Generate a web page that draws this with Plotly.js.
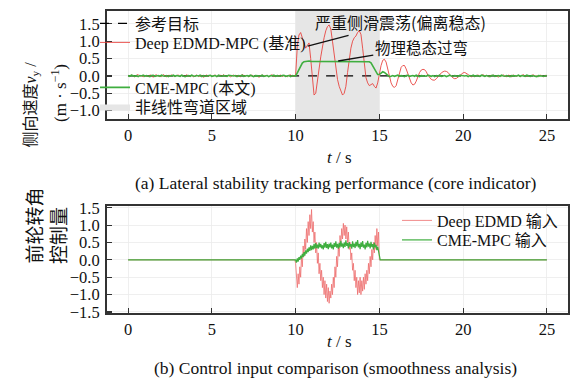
<!DOCTYPE html>
<html>
<head>
<meta charset="utf-8">
<script src="https://cdn.plot.ly/plotly-3.0.1.min.js"></script>
<style>html,body{margin:0;padding:0;background:#fff}#chart{width:580px;height:391px}</style>
</head>
<body>
<div id="chart"></div>
<script>
// ---------------- DATA ----------------
const xTicks = [0, 5, 10, 15, 20, 25];
const yTicksTop = [-1.0, -0.5, 0.0, 0.5, 1.0, 1.5];
const yTicksBot = [-1.5, -1.0, -0.5, 0.0, 0.5, 1.0, 1.5];
const regionT = [10, 15];

const refT = [0, 25];
const refV = [0, 0];

// Top: lateral velocity, sampled every 0.1 s
const vStep = 0.1;
// Deep EDMD-MPC, t = 0.0 .. 9.9
const redPre = [0.01,-0.02,0.03,0.00,-0.03,0.02,0.04,-0.01,0.01,-0.03,
0.02,0.00,-0.02,0.03,0.01,-0.04,0.02,0.03,-0.01,0.00,
-0.02,0.04,0.01,-0.03,0.02,-0.01,0.03,0.00,-0.02,0.01,
0.03,-0.03,0.02,0.01,-0.02,0.04,-0.01,0.00,0.02,-0.03,
0.01,0.03,-0.02,0.00,0.02,-0.04,0.01,0.03,-0.01,0.02,
-0.02,0.00,0.03,-0.03,0.01,0.02,-0.01,0.04,-0.02,0.00,
0.02,-0.03,0.01,0.03,-0.02,0.01,0.00,-0.03,0.04,0.01,
-0.01,0.02,-0.03,0.00,0.03,-0.02,0.01,0.02,-0.04,0.01,
0.03,-0.01,0.00,0.02,-0.03,0.01,0.04,-0.02,0.00,0.02,
-0.01,0.03,-0.02,0.01,0.00,-0.03,0.02,0.03,-0.01,0.01];
// Deep EDMD-MPC, t = 10.0 .. 20.5
const redMid = [0.02,0.85,1.18,1.25,1.10,0.92,0.80,0.88,0.95,0.50,
-0.15,-0.55,-0.50,-0.20,0.20,0.55,0.85,1.10,1.30,1.42,
1.47,1.35,1.00,0.60,0.20,-0.10,-0.30,-0.45,-0.55,-0.50,
-0.30,0.10,0.50,0.80,1.00,1.10,1.15,1.25,1.30,1.20,
0.80,0.30,-0.05,-0.20,-0.28,-0.25,-0.22,-0.30,-0.35,-0.20,
0.10,0.30,0.45,0.48,0.40,0.20,0.00,-0.20,-0.30,-0.33,
-0.28,-0.10,0.10,0.25,0.30,0.30,0.20,0.05,-0.10,-0.20,
-0.26,-0.24,-0.15,0.00,0.10,0.17,0.19,0.18,0.12,0.02,
-0.06,-0.10,-0.12,-0.12,-0.08,-0.02,0.04,0.09,0.12,0.14,
0.13,0.10,0.04,-0.02,-0.06,-0.08,-0.07,-0.03,0.02,0.06,
0.09,0.10,0.08,0.04,0.00,-0.03];
// Deep EDMD-MPC, t = 20.6 .. 25.0
const redPost = [0.02,-0.03,0.01,0.03,-0.02,0.00,0.04,-0.01,0.02,-0.03,
0.01,0.00,0.03,-0.02,0.01,-0.04,0.02,0.00,0.03,-0.01,
-0.02,0.02,0.01,-0.03,0.03,0.00,-0.01,0.02,-0.03,0.01,
0.04,-0.02,0.00,0.01,-0.03,0.02,0.03,-0.01,0.00,-0.02,
0.02,0.01,-0.03,0.02,0.00];
// CME-MPC, t = 0.0 .. 9.9
const grnPre = [0.01,-0.01,0.02,0.00,-0.01,0.01,-0.02,0.01,0.00,0.02,
-0.01,0.01,0.00,-0.02,0.01,0.02,-0.01,0.00,0.01,-0.01,
0.02,0.00,-0.01,0.01,-0.02,0.01,0.00,0.02,-0.01,0.01,
0.00,-0.01,0.02,0.01,-0.02,0.00,0.01,-0.01,0.02,0.00,
-0.01,0.01,0.00,0.02,-0.02,0.01,-0.01,0.00,0.01,0.02,
-0.01,0.00,0.01,-0.02,0.02,0.00,-0.01,0.01,0.00,-0.01,
0.02,0.01,-0.01,0.00,0.01,-0.02,0.01,0.00,0.02,-0.01,
0.00,0.01,-0.01,0.02,0.00,-0.02,0.01,0.01,-0.01,0.00,
0.02,-0.01,0.00,0.01,-0.02,0.01,0.00,0.02,-0.01,0.01,
0.00,-0.01,0.01,0.02,-0.01,0.00,0.01,-0.02,0.01,0.00];
// CME-MPC, t = 10.0 .. 15.7
const grnMid = [0.00,0.09,0.19,0.29,0.37,0.41,0.42,0.41,0.43,0.42,
0.42,0.41,0.43,0.42,0.41,0.42,0.43,0.42,0.41,0.42,
0.43,0.42,0.41,0.42,0.43,0.41,0.42,0.42,0.43,0.41,
0.42,0.43,0.42,0.41,0.42,0.43,0.42,0.41,0.42,0.43,
0.42,0.41,0.42,0.43,0.41,0.38,0.30,0.20,0.10,0.04,
0.04,0.09,0.12,0.10,0.05,0.00,-0.02,-0.01];
// CME-MPC, t = 15.8 .. 25.0
const grnPost = [0.01,-0.01,0.00,0.02,-0.01,0.01,0.00,-0.02,0.01,0.02,
-0.01,0.00,0.01,-0.01,0.02,0.00,-0.02,0.01,0.00,0.01,
-0.01,0.02,0.00,-0.01,0.01,-0.02,0.01,0.00,0.02,-0.01,
0.00,0.01,-0.02,0.01,0.02,0.00,-0.01,0.01,0.00,-0.01,
0.02,0.01,-0.01,0.00,0.01,-0.02,0.01,0.00,0.02,-0.01,
0.01,0.00,-0.01,0.02,0.00,-0.01,0.01,0.00,-0.02,0.01,
0.02,-0.01,0.00,0.01,-0.01,0.02,0.00,-0.01,0.01,0.00,
-0.02,0.01,0.01,-0.01,0.00,0.02,-0.01,0.01,0.00,-0.01,
0.02,0.00,-0.01,0.01,0.00,0.01,-0.02,0.01,0.00,0.01,
-0.01,0.00,0.01];

// Bottom: control input, t = 10.00 .. 15.00 every 0.05 s (zero outside)
const uStep = 0.05;
const uStart = 10.0;
const uRed = [-0.1,-0.6,-0.8,-0.4,-0.7,-0.2,-0.5,0.1,-0.2,0.4,0.1,0.6,0.3,0.9,0.5,1.1,0.7,1.3,0.9,1.45,
0.8,1.1,0.5,0.8,0.2,0.5,-0.1,0.2,-0.4,-0.1,-0.6,-0.3,-0.8,-0.5,-1.0,-0.6,-1.1,-0.7,-1.2,-0.8,
-1.25,-0.9,-1.1,-0.7,-1.0,-0.5,-0.8,-0.2,-0.5,0.1,-0.2,0.4,0.1,0.7,0.4,0.9,0.6,1.05,0.7,1.0,
0.6,0.95,0.5,0.8,0.3,0.5,0.0,0.2,-0.3,-0.1,-0.6,-0.3,-0.8,-0.5,-1.0,-0.6,-0.95,-0.5,-1.0,-0.6,
-0.9,-0.5,-0.85,-0.4,-0.7,-0.3,-0.6,-0.1,-0.4,0.1,-0.2,0.3,0.0,0.5,0.2,0.7,0.3,0.9,0.4,0.8,
0.0];
const uGrn = [0.0,-0.08,0.04,-0.05,0.08,0.0,0.12,0.04,0.17,0.08,0.22,0.12,0.27,0.18,0.32,0.22,0.36,0.26,0.42,0.28,
0.4,0.3,0.46,0.32,0.48,0.34,0.44,0.32,0.5,0.36,0.46,0.33,0.42,0.3,0.48,0.35,0.52,0.34,0.45,0.31,
0.47,0.36,0.5,0.33,0.44,0.3,0.48,0.37,0.53,0.35,0.46,0.32,0.49,0.36,0.55,0.38,0.47,0.34,0.5,0.37,
0.56,0.4,0.48,0.33,0.51,0.38,0.45,0.32,0.53,0.37,0.47,0.34,0.52,0.39,0.57,0.36,0.46,0.31,0.5,0.37,
0.54,0.35,0.44,0.3,0.49,0.36,0.55,0.38,0.47,0.33,0.52,0.37,0.45,0.3,0.5,0.36,0.43,0.28,0.38,0.25,
0.12];
// zero input before and after the curve segment
const uPreT = [0, 9.95];
const uPostT = [15.05, 25];
const uZero = [0, 0];

// ---------------- helpers ----------------
function grid(t0, step, n){ const a=[]; for(let i=0;i<n;i++) a.push(+(t0+i*step).toFixed(3)); return a; }

const redT = grid(0, vStep, redPre.length).concat(grid(10, vStep, redMid.length), grid(20.6, vStep, redPost.length));
const redV = redPre.concat(redMid, redPost);
const grnT = grid(0, vStep, grnPre.length).concat(grid(10, vStep, grnMid.length), grid(15.8, vStep, grnPost.length));
const grnV = grnPre.concat(grnMid, grnPost);

const uT = grid(uStart, uStep, uRed.length);
const uRedT = uPreT.concat(uT, uPostT);
const uRedV = uZero.concat(uRed, uZero);
const uGrnT = uPreT.concat(uT, uPostT);
const uGrnV = uZero.concat(uGrn, uZero);

const FONT = "Liberation Serif, Noto Sans CJK SC, serif";
const CJK = "Noto Sans CJK SC, Liberation Serif, sans-serif";
const RED = 'rgba(232,60,55,0.85)';
const RED2 = 'rgba(238,110,110,0.8)';
const GRN = '#3fae3f';

const traces = [
  {x:[regionT[0],regionT[1],regionT[1],regionT[0],regionT[0]], y:[-5,-5,5,5,-5], xaxis:'x', yaxis:'y',
   mode:'lines', fill:'toself', fillcolor:'#e6e6e6', line:{width:0, color:'#e6e6e6'},
   name:'非线性弯道区域', legend:'legend4', hoverinfo:'skip'},
  {x:refT, y:refV, xaxis:'x', yaxis:'y', mode:'lines', line:{color:'#000', width:1.2, dash:'dash'},
   name:'参考目标', legend:'legend'},
  {x:redT, y:redV, xaxis:'x', yaxis:'y', mode:'lines', line:{color:RED, width:1}, name:'Deep EDMD-MPC (基准)', legend:'legend2'},
  {x:grnT, y:grnV, xaxis:'x', yaxis:'y', mode:'lines', line:{color:GRN, width:1.6}, name:'CME-MPC (本文)', legend:'legend3'},
  {x:uRedT, y:uRedV, xaxis:'x2', yaxis:'y2', mode:'lines', line:{color:RED2, width:1}, name:'Deep EDMD 输入', legend:'legend5'},
  {x:uGrnT, y:uGrnV, xaxis:'x2', yaxis:'y2', mode:'lines', line:{color:GRN, width:1.2}, name:'CME-MPC 输入', legend:'legend6'}
];

const L=107, R=12, T=11, B=78;
const PW = 580-L-R, PH = 391-T-B;
const px = v => (v-L)/PW;          // pixel x -> paper
const py = v => (391-B-v)/PH;      // pixel y -> paper

const axX = {range:[-1.26,26.26], tickvals:xTicks, ticks:'inside', ticklen:5, tickwidth:1.2, tickcolor:'#333',
  showline:true, mirror:true, linecolor:'#333', linewidth:2, showgrid:true, gridcolor:'#ebebeb', gridwidth:0.8,
  zeroline:false, tickfont:{family:FONT, size:16.5, color:'#111'}, ticklabelstandoff:0, automargin:false};
const axY = (rng, tv) => ({range:rng, tickvals:tv, tickformat:'.1f', ticks:'inside', ticklen:5, tickwidth:1.2, tickcolor:'#333',
  showline:true, mirror:true, linecolor:'#333', linewidth:2, showgrid:true, gridcolor:'#ebebeb', gridwidth:0.8,
  zeroline:false, tickfont:{family:FONT, size:16.5, color:'#111'}, ticklabelstandoff:2, automargin:false});

const legBase = {bgcolor:'rgba(0,0,0,0)', borderwidth:0, font:{family:FONT, size:16, color:'#111'},
  xref:'paper', yref:'paper', xanchor:'left', yanchor:'middle', itemwidth:30};
const leg = (x, y) => Object.assign({}, legBase, {x:px(x), y:py(y)});

const layout = {
  width:580, height:391, margin:{l:L, r:R, t:T, b:B, autoexpand:false}, paper_bgcolor:'#fff', plot_bgcolor:'#fff',
  font:{family:FONT, size:16, color:'#111'}, showlegend:true,
  xaxis: Object.assign({}, axX, {anchor:'y', domain:[0,1]}),
  yaxis: Object.assign(axY([-1.24,1.87], yTicksTop), {anchor:'x', domain:[py(119),1]}),
  xaxis2: Object.assign({}, axX, {anchor:'y2', domain:[0,1]}),
  yaxis2: Object.assign(axY([-1.53,1.55], yTicksBot), {anchor:'x2', domain:[0,py(206)]}),
  legend: leg(95, 23.5),
  legend2: leg(95, 42.5),
  legend3: leg(95, 87.5),
  legend4: leg(95, 106.5),
  legend5: leg(397, 220.5),
  legend6: leg(397, 240),
  annotations:[
    {text:'严重侧滑震荡(偏离稳态)', x:16.25, y:1.556, xref:'x', yref:'y', ax:10.72, ay:0.86, axref:'x', ayref:'y',
     showarrow:true, arrowhead:0, arrowwidth:1.3, arrowcolor:'#111', font:{family:CJK, size:16, color:'#111'}, standoff:0},
    {text:'物理稳态过弯', x:17.5, y:0.836, xref:'x', yref:'y', ax:12.54, ay:0.43, axref:'x', ayref:'y',
     showarrow:true, arrowhead:0, arrowwidth:1.3, arrowcolor:'#111', font:{family:CJK, size:15.5, color:'#111'}, standoff:0},
    {text:'<i>t</i> / s', x:px(339), y:py(157), xref:'paper', yref:'paper', showarrow:false, font:{family:FONT, size:17}},
    {text:'(a) Lateral stability tracking performance (core indicator)', x:px(335.5), y:py(183), xref:'paper', yref:'paper', showarrow:false, font:{family:FONT, size:17.5}},
    {text:'<i>t</i> / s', x:px(339), y:py(353), xref:'paper', yref:'paper', showarrow:false, font:{family:FONT, size:17}},
    {text:'(b) Control input comparison (smoothness analysis)', x:px(335), y:py(380), xref:'paper', yref:'paper', showarrow:false, font:{family:FONT, size:17.5}},
    {text:'侧向速度<i>v</i><sub>y</sub> /', x:px(19), y:py(60), xref:'paper', yref:'paper', showarrow:false, textangle:-90, font:{family:FONT, size:16}},
    {text:'(m · s<sup>−1</sup>)', x:px(46), y:py(62), xref:'paper', yref:'paper', showarrow:false, textangle:-90, font:{family:FONT, size:17}},
    {text:'前轮转角', x:px(22), y:py(266), xref:'paper', yref:'paper', showarrow:false, textangle:-90, font:{family:FONT, size:19}},
    {text:'控制量', x:px(47), y:py(266), xref:'paper', yref:'paper', showarrow:false, textangle:-90, font:{family:FONT, size:19}}
  ]
};

// the arrow tip sits on the data point, the label sits at the tail
layout.annotations.slice(0,2).forEach(a => {
  const tx=a.x, ty=a.y; a.x=a.ax; a.y=a.ay; a.ax=tx; a.ay=ty;
});

Plotly.newPlot('chart', traces, layout, {staticPlot:true, displayModeBar:false});
</script>
</body>
</html>
